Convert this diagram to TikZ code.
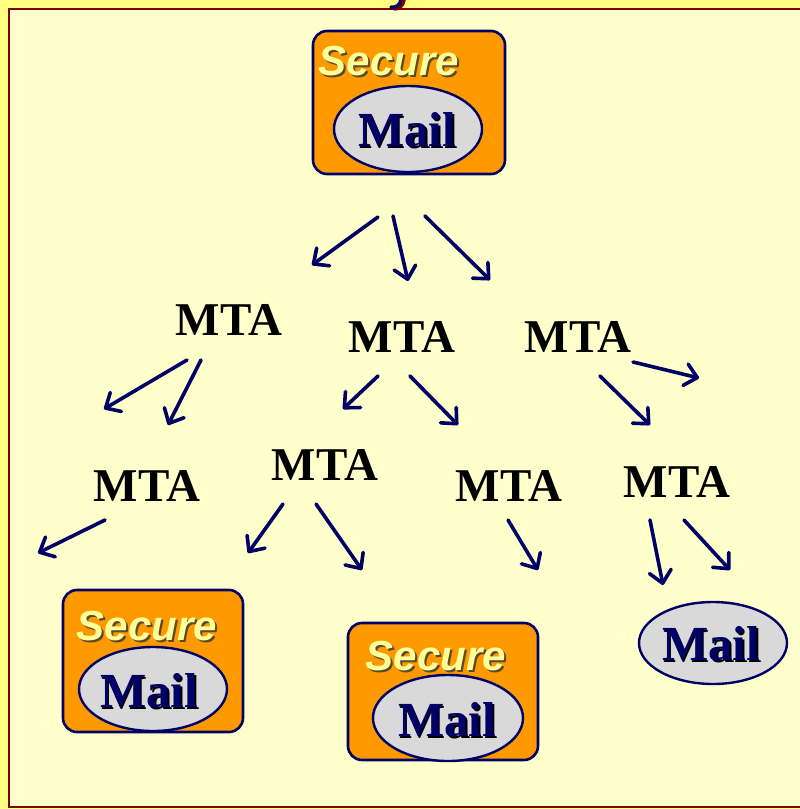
\documentclass[tikz,border=0pt]{standalone}
\usepackage{fontspec}
\newfontfamily\secfont{Liberation Sans}
\newfontfamily\serfont{Liberation Serif}
\usetikzlibrary{arrows.meta,shapes.geometric}
\definecolor{navy}{HTML}{000066}
\definecolor{outerY}{HTML}{FFFF80}
\definecolor{panelY}{HTML}{FFFFCC}
\definecolor{bord}{HTML}{800000}
\definecolor{orangeB}{HTML}{FF9900}
\definecolor{greyE}{HTML}{D9D9D9}
\definecolor{secY}{HTML}{FFFF99}
\definecolor{secS}{HTML}{5A4A2A}
\newcommand{\shd}[2]{\makebox[0pt][l]{\kern1.8pt\raisebox{-1.8pt}{\color{#1}#2}}#2}
\tikzset{
  sbox/.style={draw=navy, line width=2.6pt, fill=orangeB, rounded corners=14pt, inner sep=0pt},
  mailell/.style={ellipse, draw=navy, line width=2.4pt, fill=greyE, inner sep=0pt},
  sectxt/.style={inner sep=0pt, text=secY, font=\secfont\bfseries\itshape\fontsize{42}{42}\selectfont},
  mailtxt/.style={inner sep=0pt, text=navy, font=\serfont\bfseries\fontsize{49}{49}\selectfont},
  mta/.style={inner sep=0pt, text=black, font=\serfont\bfseries\fontsize{47}{47}\selectfont},
  arr/.style={draw=navy, line width=3.6pt, line cap=round, -{Straight Barb[length=12pt,width=22pt,line width=3.6pt,round]}},
}
\begin{document}
\begin{tikzpicture}[x=1pt,y=-1pt]
\useasboundingbox (0,0) rectangle (800,809);
\fill[outerY] (0,0) rectangle (800,809);
\fill[panelY] (9,9) rectangle (820,807);
\draw[bord, line width=2.6pt] (820,9) -- (9,9) -- (9,807) -- (820,807);
% title fragment
\draw[bord, line width=3.5pt, line cap=round] (404,0) .. controls (403,6) and (399,9) .. (394,9);
\draw[navy, line width=3.5pt, line cap=round] (401,0) .. controls (400,5) and (396,8) .. (391,7);

% top secure mail
\node[sbox, minimum width=192pt, minimum height=143pt] (topbox) at (409,102.5) {};
\node[mailell, minimum width=148pt, minimum height=86pt] (topell) at (408,129) {};
\node[sectxt] (topsec) at (389,62) {\shd{secS}{Secure}};
\node[mailtxt] (topmail) at (407,131) {\shd{black}{Mail}};

% bottom left secure mail
\node[sbox, minimum width=180pt, minimum height=142pt] (blbox) at (153,661) {};
\node[mailell, minimum width=148pt, minimum height=84pt] (blell) at (153,689) {};
\node[sectxt] (blsec) at (147,627) {\shd{secS}{Secure}};
\node[mailtxt] (blmail) at (149,692) {\shd{black}{Mail}};

% bottom middle secure mail
\node[sbox, minimum width=190pt, minimum height=137pt] (bmbox) at (443,691.5) {};
\node[mailell, minimum width=150pt, minimum height=86pt] (bmell) at (448,718) {};
\node[sectxt] (bmsec) at (436,657) {\shd{secS}{Secure}};
\node[mailtxt] (bmmail) at (447,721) {\shd{black}{Mail}};

% plain mail
\node[mailell, minimum width=148pt, minimum height=82pt] (brell) at (713,643) {};
\node[mailtxt] (brmail) at (711,645) {\shd{black}{Mail}};

% MTA nodes
\node[mta] (m1) at (229,320) {MTA};
\node[mta] (m2) at (402,337) {MTA};
\node[mta] (m3) at (578,337) {MTA};
\node[mta] (m4) at (147,486) {MTA};
\node[mta] (m5) at (325,465) {MTA};
\node[mta] (m6) at (509,486) {MTA};
\node[mta] (m7) at (677,482) {MTA};

% arrow end points
\coordinate (t1s) at (378,217); \coordinate (t1e) at (312,265);
\coordinate (t2s) at (393,216); \coordinate (t2e) at (408,281);
\coordinate (t3s) at (425,216); \coordinate (t3e) at (490,280);
\coordinate (a1s) at (187,360); \coordinate (a1e) at (104,409);
\coordinate (a2s) at (201,360); \coordinate (a2e) at (168,425);
\coordinate (b1s) at (378,376); \coordinate (b1e) at (343,409);
\coordinate (b2s) at (410,376); \coordinate (b2e) at (458,425);
\coordinate (c1s) at (600,376); \coordinate (c1e) at (650,425);
\coordinate (c2s) at (633,362); \coordinate (c2e) at (699,378);
\coordinate (d1s) at (105,520); \coordinate (d1e) at (38,553);
\coordinate (e1s) at (283,504); \coordinate (e1e) at (248,553);
\coordinate (e2s) at (316,504); \coordinate (e2e) at (362,570);
\coordinate (f1s) at (508,520); \coordinate (f1e) at (538,570);
\coordinate (g1s) at (650,520); \coordinate (g1e) at (663,585);
\coordinate (g2s) at (684,520); \coordinate (g2e) at (730,570);

\foreach \a in {t1,t2,t3,a1,a2,b1,b2,c1,c2,d1,e1,e2,f1,g1,g2}
  \draw[arr] (\a s) -- (\a e);
\end{tikzpicture}
\end{document}
